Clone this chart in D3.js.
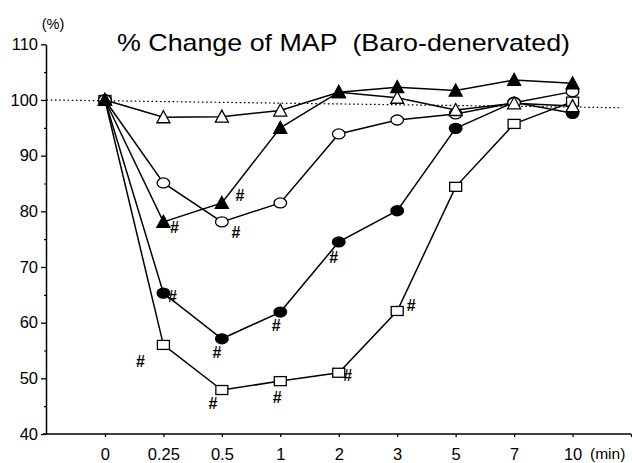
<!DOCTYPE html>
<html>
<head>
<meta charset="utf-8">
<script src="https://cdn.jsdelivr.net/npm/d3@7"></script>
<style>
  html, body { margin: 0; padding: 0; background: #fff; }
  svg { display: block; }
  text { font-family: "Liberation Sans", Arial, Helvetica, sans-serif; fill: #000; }
</style>
</head>
<body>
<svg id="chart" width="632" height="463"></svg>
<script>
// ---------- data ----------
const timeLabels = ["0", "0.25", "0.5", "1", "2", "3", "5", "7", "10"];
const yTicks = [40, 50, 60, 70, 80, 90, 100, 110];
const yMinorTicks = [45, 55, 65, 75, 85, 95, 105];

const openTriangle   = [100, 96.9, 97.0, 98.1, 101.4, 100.4, 98.2, 99.4, 98.9];
const filledTriangle = [100, 78.1, 81.5, 95.0, 101.4, 102.3, 101.7, 103.6, 103.0];
const openCircle     = [100, 85.1, 78.1, 81.5, 93.9, 96.4, 97.5, 99.5, 101.5];
const filledCircle   = [100, 65.3, 57.1, 61.9, 74.5, 80.1, 94.9, 99.6, 97.6];
const openSquare     = [100, 56.0, 47.9, 49.5, 51.0, 62.1, 84.4, 95.7, 99.7];

// dotted reference line (value at left end, value at right end)
const refLineValues = [100, 98.6];
const refLineIdx = [-1, 8.85];

// significance marks: [series, time index]
const hashMarks = [
  ["filledTriangle", 1], ["filledTriangle", 2], ["openCircle", 2],
  ["filledCircle", 1], ["filledCircle", 2], ["filledCircle", 3], ["filledCircle", 4],
  ["openSquare", 1], ["openSquare", 2], ["openSquare", 3], ["openSquare", 4], ["openSquare", 5]
];

const titleText = "% Change of MAP\u00A0\u00A0(Baro-denervated)";
const yUnit = "(%)";
const xUnit = "(min)";

// ---------- layout / style (not data) ----------
const hashOffsets = {
  "filledTriangle-1": [11, 6], "filledTriangle-2": [18, -7], "openCircle-2": [14, 11],
  "filledCircle-1": [9, 3], "filledCircle-2": [-5, 14], "filledCircle-3": [-4, 13], "filledCircle-4": [-5, 16],
  "openSquare-1": [-23, 17], "openSquare-2": [-9, 13], "openSquare-3": [-3, 16], "openSquare-4": [9, 3], "openSquare-5": [14, -5]
};

const series = [
  { key: "openSquare", values: openSquare, shape: "square", fill: "#fff" },
  { key: "filledCircle", values: filledCircle, shape: "circle", fill: "#000" },
  { key: "openCircle", values: openCircle, shape: "circle", fill: "#fff" },
  { key: "openTriangle", values: openTriangle, shape: "triangle", fill: "#fff" },
  { key: "filledTriangle", values: filledTriangle, shape: "triangle", fill: "#000" }
];
const seriesByKey = Object.fromEntries(series.map(s => [s.key, s]));

const svg = d3.select("#chart");

const x = d3.scaleLinear().domain([-1, 9]).range([46.5, 631]);
const y = d3.scaleLinear().domain([40, 110]).range([434, 44.3]);
const axisX = 46;
const FONT = "Liberation Sans, Arial, sans-serif";

// dotted reference line
svg.append("line")
  .attr("x1", x(refLineIdx[0])).attr("y1", y(refLineValues[0]))
  .attr("x2", x(refLineIdx[1])).attr("y2", y(refLineValues[1]))
  .attr("stroke", "#000").attr("stroke-width", 1.2)
  .attr("stroke-dasharray", "1.6,2.6");

// y axis
const gy = svg.append("g").attr("transform", `translate(${axisX},0)`);
gy.call(d3.axisLeft(y).tickValues(yTicks).tickSize(5).tickPadding(3).tickSizeOuter(0))
  .call(g => g.select(".domain").attr("stroke", "#000").attr("stroke-width", 1.5))
  .call(g => g.selectAll(".tick line").attr("stroke", "#000").attr("stroke-width", 1.3))
  .call(g => g.selectAll(".tick text").attr("font-size", 16.5).attr("fill", "#000")
    .attr("font-family", FONT));
svg.append("g").attr("transform", `translate(${axisX},0)`)
  .call(d3.axisLeft(y).tickValues(yMinorTicks).tickSize(2).tickFormat(""))
  .call(g => g.select(".domain").remove())
  .call(g => g.selectAll(".tick line").attr("stroke", "#000").attr("stroke-width", 1.2));

// x axis
const gx = svg.append("g").attr("transform", `translate(0,${y(40)})`);
gx.call(d3.axisBottom(x).tickValues(d3.range(0, 10)).tickSize(3).tickPadding(11).tickSizeOuter(0)
    .tickFormat(i => timeLabels[i] !== undefined ? timeLabels[i] : ""))
  .call(g => g.select(".domain").remove())
  .call(g => g.selectAll(".tick line").attr("stroke", "#000").attr("stroke-width", 1.3))
  .call(g => g.selectAll(".tick text").attr("font-size", 16.5).attr("fill", "#000")
    .attr("font-family", FONT));
svg.append("line")
  .attr("x1", axisX - 3).attr("x2", x.range()[1])
  .attr("y1", y(40)).attr("y2", y(40))
  .attr("stroke", "#000").attr("stroke-width", 1.5);

// units and title
svg.append("text").attr("x", 53).attr("y", 29).attr("text-anchor", "middle")
  .attr("font-size", 14.5).text(yUnit);
svg.append("text").attr("x", 590).attr("y", 459).attr("font-size", 15.5).text(xUnit);
svg.append("text").attr("x", 117).attr("y", 51).attr("font-size", 24)
  .attr("textLength", 453).attr("lengthAdjust", "spacingAndGlyphs").text(titleText);

// lines
const line = d3.line().x((d, i) => x(i)).y(d => y(d));
svg.append("g").selectAll("path").data(series).join("path")
  .attr("d", s => line(s.values))
  .attr("fill", "none").attr("stroke", "#000").attr("stroke-width", 1.5);

// markers
const mg = svg.append("g");
series.forEach(s => {
  const g = mg.append("g");
  s.values.forEach((v, i) => {
    const cx = x(i), cy = y(v);
    if (s.shape === "circle") {
      g.append("ellipse").attr("cx", cx).attr("cy", cy).attr("rx", 6.3).attr("ry", 5)
        .attr("fill", s.fill).attr("stroke", "#000").attr("stroke-width", 1.3);
    } else if (s.shape === "square") {
      g.append("rect").attr("x", cx - 6).attr("y", cy - 4.5).attr("width", 12).attr("height", 9)
        .attr("fill", s.fill).attr("stroke", "#000").attr("stroke-width", 1.3);
    } else {
      const p = d3.path();
      p.moveTo(cx, cy - 6.5); p.lineTo(cx + 6.5, cy + 5.5); p.lineTo(cx - 6.5, cy + 5.5); p.closePath();
      g.append("path").attr("d", p.toString())
        .attr("fill", s.fill).attr("stroke", "#000").attr("stroke-width", 1.3)
        .attr("stroke-linejoin", "miter");
    }
  });
});

// hash marks
svg.append("g").selectAll("text").data(hashMarks).join("text")
  .attr("x", d => x(d[1]) + hashOffsets[d[0] + "-" + d[1]][0])
  .attr("y", d => y(seriesByKey[d[0]].values[d[1]]) + hashOffsets[d[0] + "-" + d[1]][1])
  .attr("text-anchor", "middle").attr("dominant-baseline", "central")
  .attr("font-size", 16).attr("font-weight", "bold").text("#");
</script>
</body>
</html>
